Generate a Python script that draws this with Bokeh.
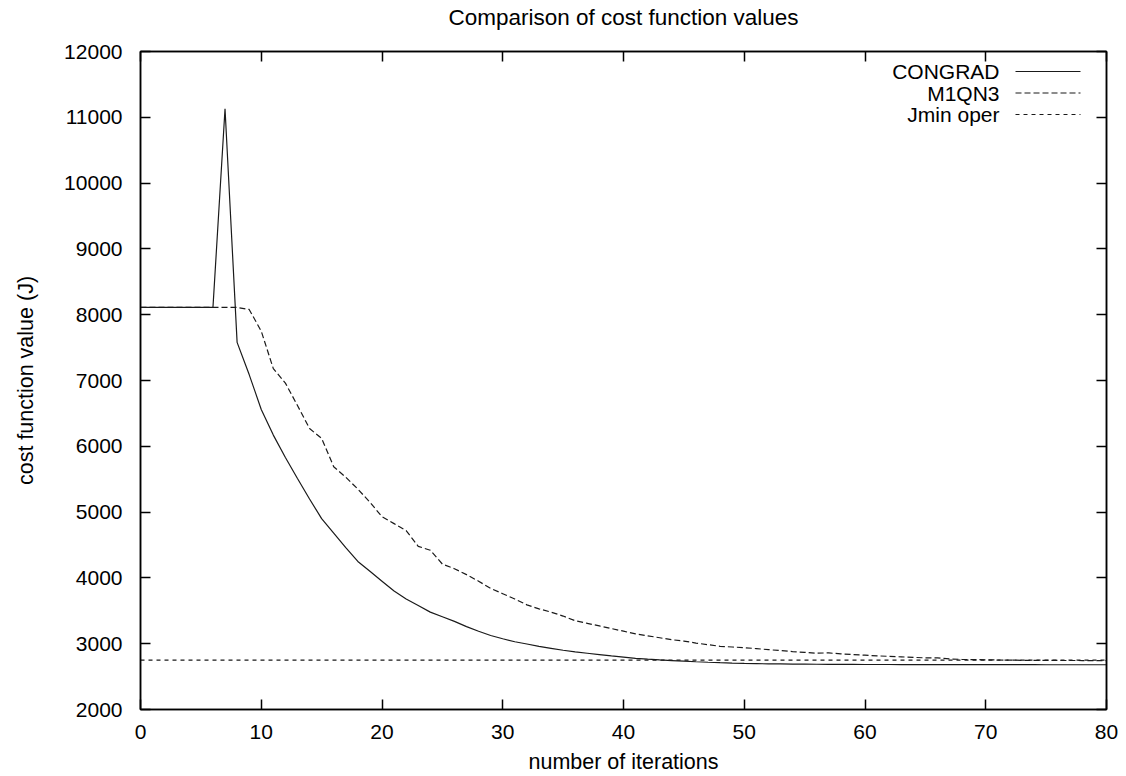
from bokeh.plotting import figure
from bokeh.models import (LinearAxis, FixedTicker, CustomJSTickFormatter, Label, Arrow,
                          Range1d, ColumnDataSource)
from bokeh.embed import file_html
from bokeh.resources import INLINE

# ---------------- data ----------------
iterations = list(range(0, 81))

congrad = [8110, 8110, 8110, 8110, 8110, 8110, 8110, 11130, 7580, 7090,
           6560, 6170, 5830, 5510, 5200, 4900, 4680, 4460, 4250, 4100,
           3950, 3800, 3680, 3580, 3480, 3410, 3340, 3260, 3190, 3125,
           3075, 3030, 2995, 2960, 2930, 2900, 2875, 2855, 2835, 2815,
           2797, 2778, 2765, 2753, 2744, 2735, 2726, 2718, 2711, 2705,
           2700, 2697, 2694, 2692, 2690, 2689, 2688, 2687, 2686, 2685,
           2684, 2684, 2684, 2683, 2683, 2683, 2682, 2682, 2682, 2682,
           2681, 2681, 2681, 2681, 2681, 2680, 2680, 2680, 2680, 2680,
           2680]

m1qn3 = [8110, 8110, 8110, 8110, 8110, 8110, 8110, 8110, 8110, 8080,
         7750, 7180, 6960, 6620, 6270, 6120, 5690, 5530, 5350, 5150,
         4930, 4825, 4720, 4480, 4420, 4210, 4140, 4050, 3950, 3840,
         3760, 3680, 3590, 3530, 3480, 3420, 3350, 3310, 3270, 3230,
         3190, 3150, 3120, 3090, 3060, 3040, 3010, 2985, 2960, 2950,
         2940, 2925, 2910, 2895, 2880, 2868, 2856, 2860, 2845, 2835,
         2825, 2815, 2808, 2800, 2792, 2785, 2785, 2768, 2762, 2758,
         2755, 2752, 2750, 2748, 2747, 2746, 2745, 2745, 2744, 2744,
         2744]

jmin_oper = 2750
jmin_line = [jmin_oper] * len(iterations)

series_names = ["CONGRAD", "M1QN3", "Jmin oper"]
x_ticks = [0, 10, 20, 30, 40, 50, 60, 70, 80]
y_ticks = [2000, 3000, 4000, 5000, 6000, 7000, 8000, 9000, 10000, 11000, 12000]

title_text = "Comparison of cost function values"
x_label = "number of iterations"
y_label = "cost function value (J)"

# ---------------- styling ----------------
FONT = "Liberation Sans"
FS = "21px"
LINE_COLOR = "#1a1a1a"
DASH = {"CONGRAD": "solid", "M1QN3": "6 3", "Jmin oper": "4 4"}

W, H = 1126, 776
B_LEFT, B_RIGHT, B_TOP, B_BOTTOM = 140, 20, 51, 67
frame_w = W - B_LEFT - B_RIGHT
frame_h = H - B_TOP - B_BOTTOM

p = figure(width=W, height=H, output_backend="svg", toolbar_location=None,
           x_range=Range1d(0, 80), y_range=Range1d(2000, 12000),
           x_axis_type=None, y_axis_type=None,
           min_border_left=B_LEFT, min_border_right=B_RIGHT,
           min_border_top=B_TOP, min_border_bottom=B_BOTTOM)
p.background_fill_color = "white"
p.border_fill_color = "white"
p.outline_line_color = "black"
p.outline_line_width = 1.5
p.grid.visible = False


def style_axis(ax, labels=True):
    ax.axis_line_color = "black"
    ax.axis_line_width = 1.5
    ax.major_tick_in = 10
    ax.major_tick_out = 0
    ax.major_tick_line_width = 1.5
    ax.major_tick_line_color = "black"
    ax.minor_tick_line_color = None
    ax.major_label_text_font = FONT
    ax.major_label_text_font_size = FS
    ax.major_label_text_color = "black"
    ax.axis_label_text_font = FONT
    ax.axis_label_text_font_size = "21.5px"
    ax.axis_label_text_font_style = "normal"
    ax.axis_label_text_color = "black"
    if not labels:
        ax.formatter = CustomJSTickFormatter(code="return ''")


xb = LinearAxis(ticker=FixedTicker(ticks=x_ticks), axis_label=x_label)
style_axis(xb)
xb.major_label_standoff = 15
xb.axis_label_standoff = 8
p.add_layout(xb, "below")

yl = LinearAxis(ticker=FixedTicker(ticks=y_ticks), axis_label=y_label)
style_axis(yl)
yl.major_label_standoff = 18
yl.axis_label_standoff = 23
p.add_layout(yl, "left")

# top mirror axis carries the chart title as its label (gnuplot-like placement)
xt = LinearAxis(ticker=FixedTicker(ticks=x_ticks), axis_label=title_text)
style_axis(xt, labels=False)
xt.axis_label_text_font_size = "22.5px"
xt.major_label_standoff = 0
xt.axis_label_standoff = 22
p.add_layout(xt, "above")

yr = LinearAxis(ticker=FixedTicker(ticks=y_ticks))
style_axis(yr, labels=False)
p.add_layout(yr, "right")

src = ColumnDataSource(dict(x=iterations, c=congrad, m=m1qn3, j=jmin_line))

p.line("x", "c", source=src, line_color=LINE_COLOR, line_width=1.2, line_dash=DASH["CONGRAD"])
p.line("x", "m", source=src, line_color=LINE_COLOR, line_width=1.2, line_dash=DASH["M1QN3"])
p.line("x", "j", source=src, line_color=LINE_COLOR, line_width=1.2, line_dash=DASH["Jmin oper"])

# ---------------- gnuplot-style key (text then sample) ----------------
key_text_right = 859
key_sample = (875, 940)
key_rows = [20, 41.5, 63]
for name, row in zip(series_names, key_rows):
    y = frame_h - row
    p.add_layout(Label(x=key_text_right, y=y, x_units="screen", y_units="screen",
                       text=name, text_align="right", text_baseline="middle",
                       text_font=FONT, text_font_size=FS, text_color="black"))
    p.add_layout(Arrow(end=None, x_start=key_sample[0], y_start=y, x_end=key_sample[1], y_end=y,
                       start_units="screen", end_units="screen",
                       line_color=LINE_COLOR, line_width=1.2, line_dash=DASH[name]))

open("out.html", "w").write(file_html(p, INLINE))
